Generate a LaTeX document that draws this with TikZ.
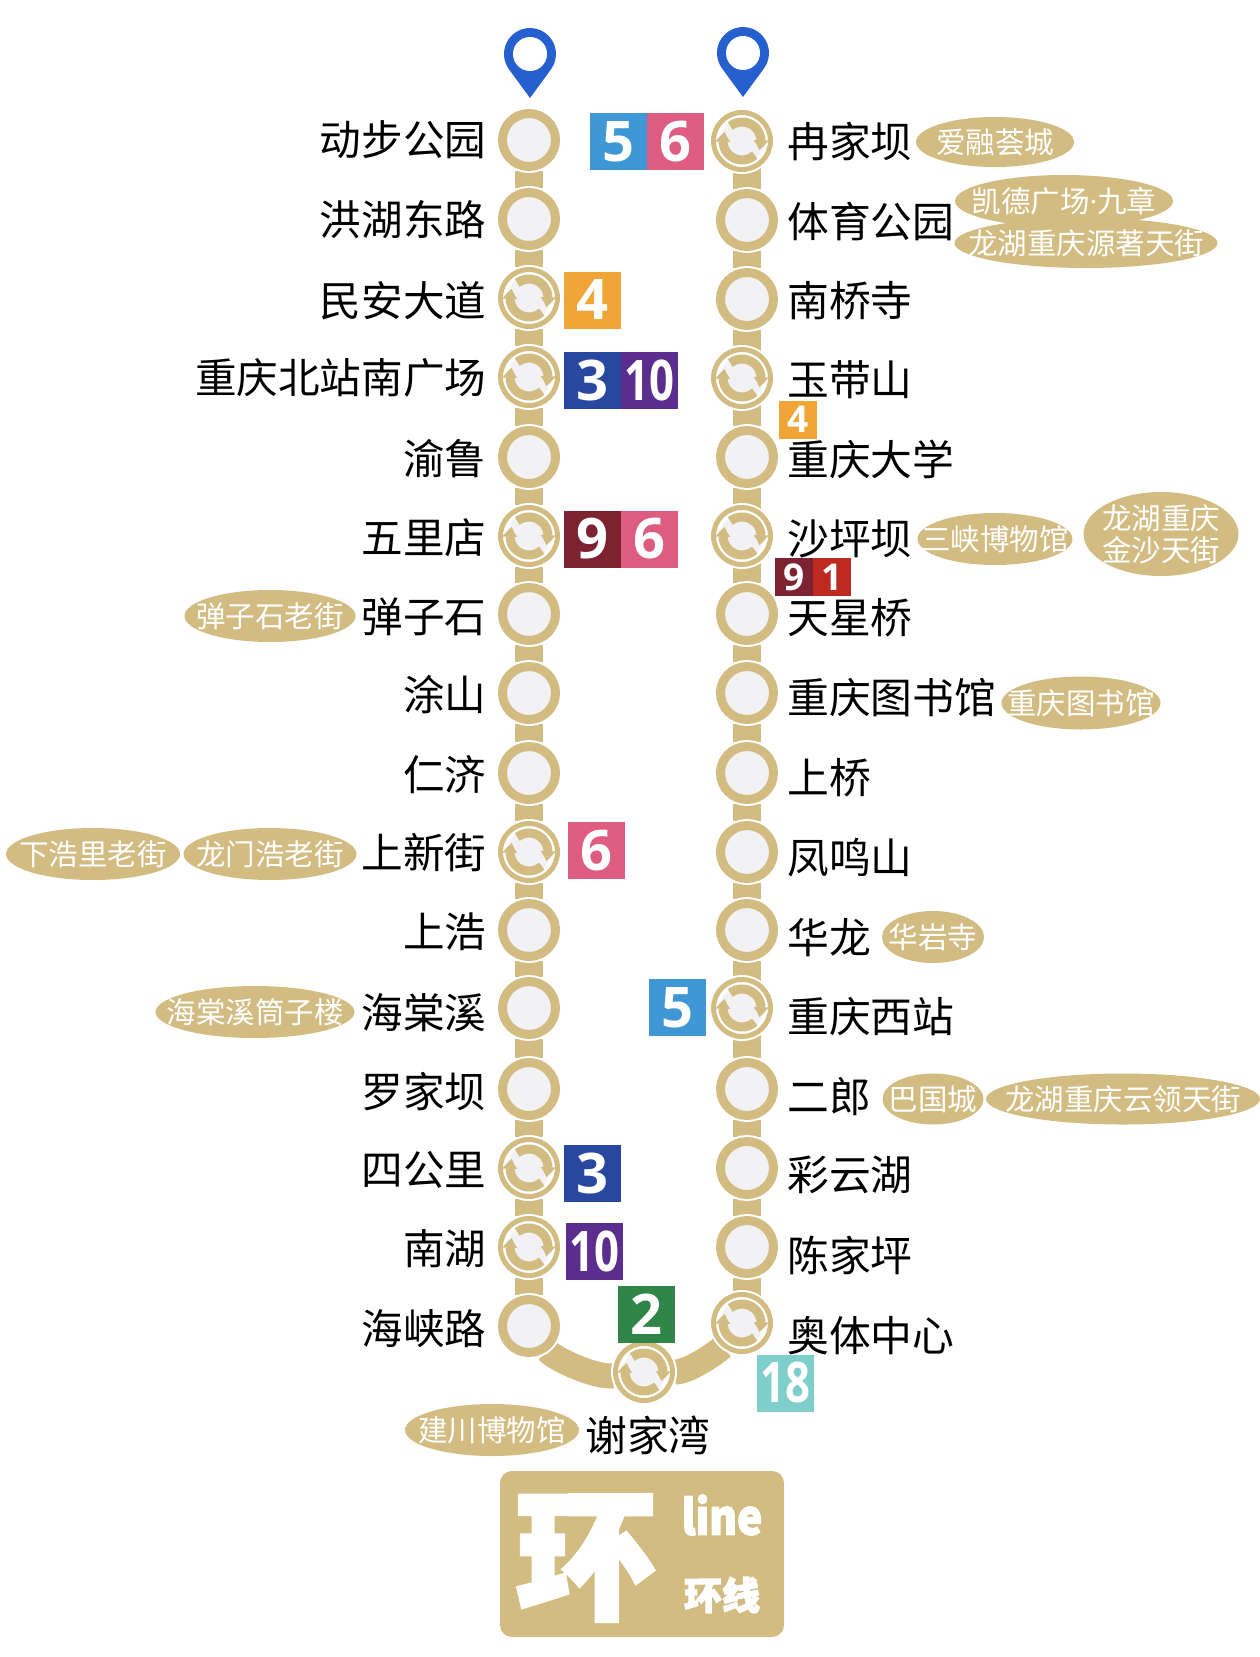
\documentclass[tikz,border=0pt]{standalone}
\usepackage{fontspec}
\setmainfont{Noto Sans CJK SC}
\newfontfamily\digitfont{Open Sans}
\newfontfamily\logofont[FakeBold=3]{Noto Sans CJK SC}
\usetikzlibrary{positioning,shapes.geometric,backgrounds,arrows.meta,bending}
\definecolor{gold}{HTML}{D2BC82}
\definecolor{stopfill}{HTML}{F2F2F5}
\definecolor{pinblue}{HTML}{2560CE}
\definecolor{lineone}{HTML}{BE2A22}
\definecolor{linetwo}{HTML}{308648}
\definecolor{linethree}{HTML}{29479E}
\definecolor{linefour}{HTML}{F0A536}
\definecolor{linefive}{HTML}{3F97D5}
\definecolor{linesix}{HTML}{DD5C7F}
\definecolor{linenine}{HTML}{7C2230}
\definecolor{lineten}{HTML}{5A2D8E}
\definecolor{lineeighteen}{HTML}{7ECFCB}
\newcommand{\narrow}[1]{\scalebox{.78}[1]{#1}}
\begin{document}
\begin{tikzpicture}[
            x=1pt, y=-1pt,
            plainstop/.style={circle, inner sep=0pt, minimum size=53pt, line width=9pt, draw=gold, fill=stopfill,
                preaction={draw=white, line width=13pt}},
            hubstop/.style={circle, inner sep=0pt, minimum size=57pt, line width=5pt, draw=gold, fill=white,
                preaction={draw=white, line width=9pt},
                path picture={
                    \begin{scope}[shift={(path picture bounding box.center)}, x=1pt, y=1pt]
                        \fill[stopfill] (0,0) circle (22pt);
                        \draw[hubarrow] (128:19pt) arc (128:-28:19pt);
                        \draw[hubarrow] (-48:19pt) arc (-48:-208:19pt);
                    \end{scope}
                }},
            hubarrow/.style={gold, line width=9pt, -{Triangle[width=14pt, length=10pt, bend]}},
            track/.style={gold, line width=28pt},
            bendtrack/.style={gold, line width=25pt},
            leftname/.style={anchor=east, inner sep=0pt, font=\fontsize{41.6}{41.6}\selectfont},
            rightname/.style={anchor=west, inner sep=0pt, font=\fontsize{41.8}{41.8}\selectfont},
            badge/.style={rectangle, inner sep=0pt, outer sep=0pt, minimum size=57pt, text=white,
                font=\fontsize{56}{56}\digitfont\bfseries},
            smallbadge/.style={rectangle, inner sep=0pt, outer sep=0pt, minimum size=38pt, text=white,
                font=\fontsize{37}{37}\digitfont\bfseries},
            poi/.style={ellipse, inner sep=0pt, outer sep=0pt, fill=gold},
            poitext/.style={text=white, inner sep=0pt, align=center, font=\fontsize{29.5}{32}\selectfont},
            ]
            \useasboundingbox (0,0) rectangle (1260,1657);

            % terminus pins
            \tikzset{mappin/.pic={
                \begin{scope}[x=1pt, y=1pt]
                    \fill[pinblue] (0,-44pt) -- (-36:26pt) arc (-36:216:26pt) -- cycle;
                    \fill[white] (0,0) circle (17pt);
                \end{scope}
            }}
            \pic at (530,54) {mappin};
            \pic at (743,53) {mappin};

            % left side
            \node[plainstop] (dongbu) at (529,140) {};
            \node[plainstop] (honghu) at (529,219) {};
            \node[hubstop] (minan) at (529,298) {};
            \node[hubstop] (beizhan) at (529,377) {};
            \node[plainstop] (yulu) at (529,457) {};
            \node[hubstop] (wulidian) at (529,536) {};
            \node[plainstop] (danzishi) at (529,614) {};
            \node[plainstop] (tushan) at (529,693) {};
            \node[plainstop] (renji) at (529,773) {};
            \node[hubstop] (shangxin) at (529,852) {};
            \node[plainstop] (shanghao) at (529,930) {};
            \node[plainstop] (haitang) at (529,1008) {};
            \node[plainstop] (luojia) at (529,1089) {};
            \node[hubstop] (sigongli) at (529,1168) {};
            \node[hubstop] (nanhu) at (529,1247) {};
            \node[plainstop] (haixia) at (529,1326) {};

            % bottom
            \node[hubstop] (xiejia) at (644,1372) {};

            % right side
            \node[hubstop] (ranjia) at (742,141) {};
            \node[plainstop] (tiyu) at (747,220) {};
            \node[plainstop] (nanqiao) at (747,299) {};
            \node[hubstop] (yudai) at (742,378) {};
            \node[plainstop] (chongda) at (747,457) {};
            \node[hubstop] (shaping) at (742,536) {};
            \node[plainstop] (tianxing) at (747,614) {};
            \node[plainstop] (tushuguan) at (747,693) {};
            \node[plainstop] (shangqiao) at (747,773) {};
            \node[plainstop] (fengming) at (747,852) {};
            \node[plainstop] (hualong) at (747,930) {};
            \node[hubstop] (xizhan) at (742,1008) {};
            \node[plainstop] (erlang) at (747,1089) {};
            \node[plainstop] (caiyun) at (747,1168) {};
            \node[plainstop] (chenjia) at (747,1247) {};
            \node[hubstop] (aoti) at (742,1323) {};

            \begin{scope}[on background layer]
                \draw[track] (dongbu) -- (honghu) -- (minan) -- (beizhan) -- (yulu) -- (wulidian) -- (danzishi) -- (tushan)
                    -- (renji) -- (shangxin) -- (shanghao) -- (haitang) -- (luojia) -- (sigongli) -- (nanhu) -- (haixia);
                \draw[track] (tiyu |- ranjia) -- (tiyu) -- (nanqiao) -- (nanqiao |- yudai) -- (chongda) -- (chongda |- shaping) -- (tianxing)
                    -- (tushuguan) -- (shangqiao) -- (fengming) -- (hualong) -- (hualong |- xizhan) -- (erlang) -- (caiyun) -- (chenjia) -- (chenjia |- aoti);
                \draw[bendtrack] (haixia) .. controls (553,1358) and (595,1378) .. (xiejia);
                \draw[bendtrack] (xiejia) .. controls (690,1372) and (720,1350) .. (aoti);
            \end{scope}

            % station names
            \node[leftname] (dongbutext) at (486.5,140) {动步公园};
            \node[leftname] (honghutext) at (486.5,220) {洪湖东路};
            \node[leftname] (minantext) at (486.5,301) {民安大道};
            \node[leftname] (beizhantext) at (486.5,378) {重庆北站南广场};
            \node[leftname] (yulutext) at (486.5,459) {渝鲁};
            \node[leftname] (wulidiantext) at (486.5,538) {五里店};
            \node[leftname] (danzishitext) at (486.5,617) {弹子石};
            \node[leftname] (tushantext) at (486.5,695) {涂山};
            \node[leftname] (renjitext) at (486.5,775) {仁济};
            \node[leftname] (shangxintext) at (486.5,853) {上新街};
            \node[leftname] (shanghaotext) at (486.5,932) {上浩};
            \node[leftname] (haitangtext) at (486.5,1013) {海棠溪};
            \node[leftname] (luojiatext) at (486.5,1092) {罗家坝};
            \node[leftname] (sigonglitext) at (486.5,1170) {四公里};
            \node[leftname] (nanhutext) at (486.5,1249) {南湖};
            \node[leftname] (haixiatext) at (486.5,1329) {海峡路};

            \node[rightname] (ranjiatext) at (787,141) {冉家坝};
            \node[rightname] (tiyutext) at (787,221) {体育公园};
            \node[rightname] (nanqiaotext) at (787,301) {南桥寺};
            \node[rightname] (yudaitext) at (787,380) {玉带山};
            \node[rightname] (chongdatext) at (787,459) {重庆大学};
            \node[rightname] (shapingtext) at (787,539) {沙坪坝};
            \node[rightname] (tianxingtext) at (787,618) {天星桥};
            \node[rightname] (tushuguantext) at (787,698) {重庆图书馆};
            \node[rightname] (shangqiaotext) at (787,778) {上桥};
            \node[rightname] (fengmingtext) at (787,858) {凤鸣山};
            \node[rightname] (hualongtext) at (787,938) {华龙};
            \node[rightname] (xizhantext) at (787,1017) {重庆西站};
            \node[rightname] (erlangtext) at (787,1097) {二郎};
            \node[rightname] (caiyuntext) at (787,1175) {彩云湖};
            \node[rightname] (chenjiatext) at (787,1255) {陈家坪};
            \node[rightname] (aotitext) at (787,1336) {奥体中心};
            \node[rightname] (xiejiatext) at (585,1435) {谢家湾};

            % line numbers
            \node[badge, fill=linefive] (ranjiafive) at (618.5,141.5) {5};
            \node[badge, fill=linesix, right=0pt of ranjiafive] (ranjiasix) {6};
            \node[badge, fill=linefour] (minanfour) at (592.5,300) {4};
            \node[badge, fill=linethree] (beizhanthree) at (592,380.5) {3};
            \node[badge, fill=lineten, right=0pt of beizhanthree] (beizhanten) {\narrow{10}};
            \node[badge, fill=linenine] (wulinine) at (592,539) {9};
            \node[badge, fill=linesix, right=0pt of wulinine] (wulisix) {6};
            \node[badge, fill=linesix] (shangxinsix) at (596,850.5) {6};
            \node[badge, fill=linefive] (xizhanfive) at (677.5,1007.5) {5};
            \node[badge, fill=linethree] (sigonglithree) at (592,1173.5) {3};
            \node[badge, fill=lineten] (nanhuten) at (594,1251) {\narrow{10}};
            \node[badge, fill=linetwo] (xiejiatwo) at (646.5,1314) {2};
            \node[badge, fill=lineeighteen] (aotieighteen) at (785.5,1383) {\narrow{18}};
            \node[smallbadge, fill=linefour] (yudaifour) at (798,419.5) {4};
            \node[smallbadge, fill=linenine] (shapingnine) at (794,577) {9};
            \node[smallbadge, fill=lineone, right=0pt of shapingnine] (shapingone) {1};

            % places nearby
            \node[poi, minimum width=158pt, minimum height=50pt, label={[poitext]center:爱融荟城}] (airong) at (995,142) {};
            \node[poi, minimum width=218pt, minimum height=52pt, label={[poitext]center:凯德广场{\digitfont·}九章}] (kaide) at (1064,201) {};
            \node[poi, minimum width=263pt, minimum height=50pt, label={[poitext]center:龙湖重庆源著天街}] (yuanzhu) at (1086,243) {};
            \node[poi, minimum width=155pt, minimum height=52pt, label={[poitext]center:三峡博物馆}] (sanxia) at (995,539) {};
            \node[poi, minimum width=155pt, minimum height=84pt, label={[poitext]center:龙湖重庆\\金沙天街}] (jinsha) at (1161,534) {};
            \node[poi, minimum width=159pt, minimum height=53pt, label={[poitext]center:重庆图书馆}] (library) at (1081,703) {};
            \node[poi, minimum width=102pt, minimum height=52pt, label={[poitext]center:华岩寺}] (huayan) at (933,937) {};
            \node[poi, minimum width=101pt, minimum height=51pt, label={[poitext]center:巴国城}] (baguo) at (933,1099) {};
            \node[poi, minimum width=274pt, minimum height=51pt, label={[poitext]center:龙湖重庆云领天街}] (yunling) at (1123,1099) {};
            \node[poi, minimum width=171pt, minimum height=52pt, label={[poitext]center:弹子石老街}] (danzilao) at (270,616) {};
            \node[poi, minimum width=174pt, minimum height=52pt, label={[poitext]center:下浩里老街}] (xiahao) at (93,854) {};
            \node[poi, minimum width=173pt, minimum height=52pt, label={[poitext]center:龙门浩老街}] (longmen) at (270,854) {};
            \node[poi, minimum width=199pt, minimum height=52pt, label={[poitext]center:海棠溪筒子楼}] (tongzi) at (255,1012) {};
            \node[poi, minimum width=174pt, minimum height=52pt, label={[poitext]center:建川博物馆}] (jianchuan) at (492,1430) {};

            % line sign
            \node[rectangle, rounded corners=12pt, fill=gold, minimum width=284pt, minimum height=166pt] (sign) at (642,1554) {};
            \node[text=white, inner sep=0pt, font=\fontsize{140}{140}\logofont\bfseries] (signbig) at (586,1558) {环};
            \node[text=white, inner sep=0pt, font=\fontsize{48}{48}\logofont\bfseries] (signline) at (722,1515) {\scalebox{.88}[1]{line}};
            \node[text=white, inner sep=0pt, font=\fontsize{38}{38}\logofont\bfseries] (signname) at (722,1595) {环线};
        \end{tikzpicture}
\end{document}
